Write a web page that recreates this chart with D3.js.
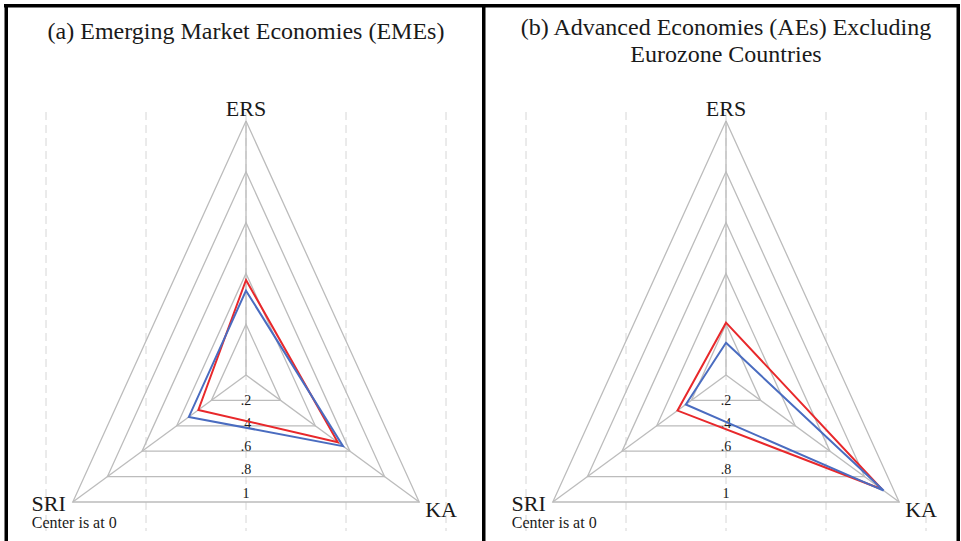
<!DOCTYPE html>
<html>
<head>
<meta charset="utf-8">
<script src="https://cdn.jsdelivr.net/npm/d3@7"></script>
<style>
  html, body { margin: 0; padding: 0; background: #fff; }
  svg { display: block; }
  text { font-family: "Liberation Serif", "Times New Roman", serif; fill: #1a1a1a; }
</style>
</head>
<body>
<svg id="chart" width="961" height="541"></svg>
<script>
// Radar axes (clockwise from top) and their angles in degrees
const axisNames = ["ERS", "KA", "SRI"];
const axisAngles = [-90, 30, 150];

// Grid levels and their labels
const levels = [0.2, 0.4, 0.6, 0.8, 1];
const levelLabels = [".2", ".4", ".6", ".8", "1"];

// Panel (a): Emerging Market Economies
const emeRed  = [0.374, 0.53, 0.275];
const emeBlue = [0.332, 0.56, 0.33];

// Panel (b): Advanced Economies excluding Eurozone
const aeRed  = [0.206, 0.90, 0.28];
const aeBlue = [0.127, 0.91, 0.232];

const panelTitles = [
  ["(a) Emerging Market Economies (EMEs)"],
  ["(b) Advanced Economies (AEs) Excluding", "Eurozone Countries"]
];

const svg = d3.select("#chart");

function drawPanel(cx, titleLines, redVals, blueVals) {
  const cy = 375;
  const g = svg.append("g");

  // unit-circle coordinates mapped to the stretched plot region
  const x = d3.scaleLinear().domain([-1, 1]).range([cx - 200, cx + 200]);
  const y = d3.scaleLinear().domain([-1, 1]).range([cy - 254, cy + 254]);
  const labelY = d3.scaleLinear().domain([0, 1]).range([cy + 2, cy + 118]);

  const pt = (v, i) => {
    const a = axisAngles[i] * Math.PI / 180;
    return [x(v * Math.cos(a)), y(v * Math.sin(a))];
  };
  const line = d3.line().curve(d3.curveLinearClosed);

  // dashed vertical grid
  g.selectAll("line.vgrid").data(x.ticks(4)).join("line")
    .attr("class", "vgrid")
    .attr("x1", d => x(d)).attr("x2", d => x(d))
    .attr("y1", 112).attr("y2", 531)
    .attr("stroke", "#d6d6d6").attr("stroke-width", 1)
    .attr("stroke-dasharray", "8,5");

  // level triangles
  g.selectAll("path.level").data(levels).join("path")
    .attr("class", "level")
    .attr("d", v => line(axisNames.map((_, i) => pt(v, i))))
    .attr("fill", "none").attr("stroke", "#bcbcbc").attr("stroke-width", 1.3);

  // spokes
  g.selectAll("line.spoke").data(axisNames).join("line")
    .attr("class", "spoke")
    .attr("x1", x(0)).attr("y1", y(0))
    .attr("x2", (d, i) => pt(1, i)[0]).attr("y2", (d, i) => pt(1, i)[1])
    .attr("stroke", "#bcbcbc").attr("stroke-width", 1.3);

  // level labels
  g.selectAll("text.lvl").data(levels).join("text")
    .attr("class", "lvl")
    .attr("x", x(0)).attr("y", v => labelY(v))
    .attr("text-anchor", "middle").attr("dominant-baseline", "central")
    .attr("font-size", 14)
    .text((v, i) => levelLabels[i]);

  // series polygons
  [[redVals, "#e8282b"], [blueVals, "#4a6cc0"]].forEach(([vals, col]) => {
    g.append("path")
      .attr("d", line(vals.map((v, i) => pt(v, i))))
      .attr("fill", "none").attr("stroke", col).attr("stroke-width", 2)
      .attr("stroke-linejoin", "miter");
  });

  // axis names
  const ers = pt(1, 0), ka = pt(1, 1), sri = pt(1, 2);
  g.append("text").attr("x", ers[0]).attr("y", ers[1] - 5)
    .attr("text-anchor", "middle").attr("font-size", 22).text(axisNames[0]);
  g.append("text").attr("x", ka[0] + 6).attr("y", ka[1] + 15)
    .attr("text-anchor", "start").attr("font-size", 22).text(axisNames[1]);
  g.append("text").attr("x", sri[0] - 7).attr("y", sri[1] + 9)
    .attr("text-anchor", "end").attr("font-size", 22).text(axisNames[2]);

  g.append("text").attr("x", sri[0] - 41).attr("y", sri[1] + 26)
    .attr("font-size", 16).text("Center is at 0");

  // title
  const t = g.append("text").attr("text-anchor", "middle").attr("font-size", 24);
  if (titleLines.length === 1) {
    t.append("tspan").attr("x", cx).attr("y", 39).text(titleLines[0]);
  } else {
    titleLines.forEach((s, k) => {
      t.append("tspan").attr("x", cx).attr("y", 34.5 + k * 27).text(s);
    });
  }
}

drawPanel(246, panelTitles[0], emeRed, emeBlue);
drawPanel(726, panelTitles[1], aeRed, aeBlue);

// panel frames
const frame = svg.append("g").attr("fill", "#000");
frame.append("rect").attr("x", 4).attr("y", 4).attr("width", 956).attr("height", 3.5);
frame.append("rect").attr("x", 4.5).attr("y", 4).attr("width", 3.5).attr("height", 537);
frame.append("rect").attr("x", 482).attr("y", 4).attr("width", 3.5).attr("height", 537);
frame.append("rect").attr("x", 956.5).attr("y", 4).attr("width", 3.5).attr("height", 537);
</script>
</body>
</html>
